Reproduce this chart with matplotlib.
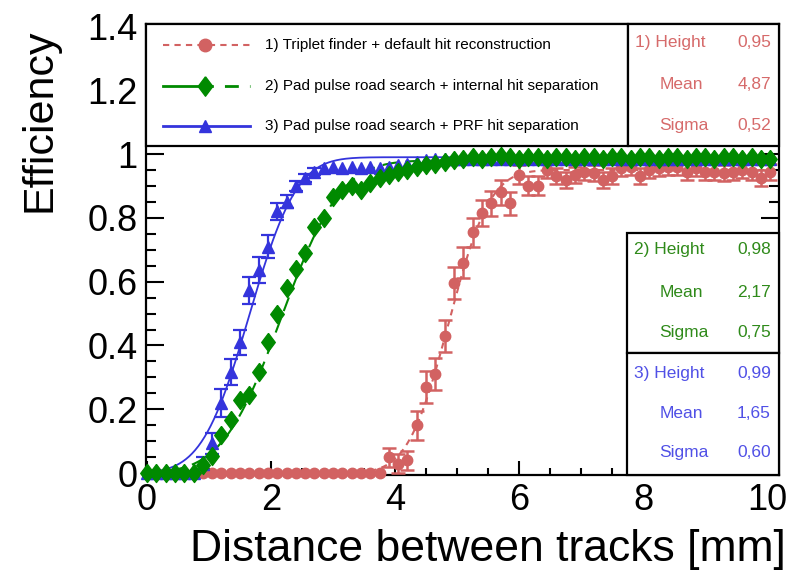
import math
import matplotlib
matplotlib.use('Agg')
import matplotlib.pyplot as plt
import numpy as np
from matplotlib.ticker import MultipleLocator, FormatStrFormatter
from matplotlib.patches import Rectangle

plt.rcParams['font.family'] = ['Liberation Sans', 'DejaVu Sans']

# bin centres [mm], 0.15 mm wide bins
x = np.round(np.arange(68) * 0.15, 2)

# 1) Triplet finder + default hit reconstruction
eff1 = [0, 0, 0, 0, 0, 0, 0, 0, 0, 0, 0, 0, 0, 0, 0, 0, 0, 0, 0, 0, 0, 0, 0, 0, 0, 0,
        0.05, 0.03, 0.04,
        0.15, 0.27, 0.31, 0.43, 0.595, 0.66, 0.755, 0.815, 0.845, 0.88, 0.845, 0.935, 0.90, 0.90,
        0.95, 0.93, 0.92, 0.935, 0.945, 0.94, 0.92, 0.93, 0.955, 0.96,
        0.93, 0.95, 0.955, 0.96, 0.96, 0.945, 0.955, 0.945, 0.945, 0.94,
        0.945, 0.95, 0.945, 0.925, 0.945]
err1 = [0, 0, 0, 0, 0, 0, 0, 0, 0, 0, 0, 0, 0, 0, 0, 0, 0, 0, 0, 0, 0, 0, 0, 0, 0, 0,
        0.03, 0.03, 0.03,
        0.045, 0.05, 0.05, 0.05, 0.05, 0.05, 0.045, 0.04, 0.04, 0.04, 0.035, 0.03, 0.03, 0.03,
        0.025, 0.025, 0.025, 0.025, 0.025, 0.025, 0.025, 0.025, 0.025, 0.025,
        0.025, 0.025, 0.025, 0.025, 0.025, 0.025, 0.025, 0.025, 0.025, 0.025,
        0.025, 0.025, 0.025, 0.025, 0.025]

# 2) Pad pulse road search + internal hit separation
eff2 = [0, 0, 0, 0, 0, 0, 0.025,
        0.055, 0.12, 0.165, 0.23, 0.245, 0.317, 0.41, 0.50, 0.58, 0.64, 0.69, 0.77,
        0.80, 0.865, 0.887, 0.90, 0.887, 0.91, 0.925, 0.935, 0.945, 0.95, 0.96, 0.965,
        0.97, 0.975, 0.98,
        0.985, 0.99, 0.985, 0.99, 0.995, 0.99, 0.985, 0.99, 0.99, 0.985,
        0.99, 0.99, 0.985, 0.99, 0.99, 0.985, 0.99, 0.99, 0.985, 0.99,
        0.99, 0.985, 0.99, 0.99, 0.985, 0.99, 0.99, 0.985, 0.99, 0.99,
        0.985, 0.99, 0.985, 0.985]

# 3) Pad pulse road search + PRF hit separation
eff3 = [0, 0, 0, 0, 0, 0, 0.03,
        0.094, 0.22, 0.317, 0.41, 0.573, 0.636, 0.71, 0.82, 0.85, 0.90, 0.925, 0.945,
        0.955, 0.96, 0.955, 0.96, 0.955, 0.96, 0.955, 0.96, 0.965,
        0.97, 0.975, 0.98, 0.985, 0.985, 0.985, 0.985, 0.985, 0.985, 0.985,
        0.985, 0.985, 0.985, 0.985, 0.985, 0.985, 0.985, 0.985, 0.985, 0.985,
        0.985, 0.985, 0.985, 0.985, 0.985, 0.985, 0.985, 0.985, 0.985, 0.985,
        0.985, 0.985, 0.985, 0.985, 0.985, 0.985, 0.985, 0.985, 0.985, 0.985]
err3 = [0, 0, 0, 0, 0, 0, 0.02,
        0.033, 0.044, 0.04, 0.04, 0.042, 0.04, 0.035, 0.028, 0.02, 0.015, 0.012, 0.01,
        0, 0, 0, 0, 0, 0, 0, 0, 0,
        0, 0, 0, 0, 0, 0, 0, 0, 0, 0,
        0, 0, 0, 0, 0, 0, 0, 0, 0, 0,
        0, 0, 0, 0, 0, 0, 0, 0, 0, 0,
        0, 0, 0, 0, 0, 0, 0, 0, 0, 0]

# fit results (Height, Mean, Sigma)
fit1 = (0.95, 4.87, 0.52)
fit2 = (0.98, 2.17, 0.75)
fit3 = (0.99, 1.65, 0.60)

labels = ['1) Triplet finder + default hit reconstruction',
          '2) Pad pulse road search + internal hit separation',
          '3) Pad pulse road search + PRF hit separation']

c_red = '#d26262'
c_green = '#008a00'
c_blue = '#3434dc'
t_red = '#d66a6a'
t_green = '#2f8a1a'
t_blue = '#5050e6'

# rhombus marker, a bit narrower than it is tall
rhomb = [(0, 1), (0.75, 0), (0, -1), (-0.75, 0), (0, 1)]


def erf_fit(xs, p):
    h, m, s = p
    return np.array([h * 0.5 * (1 + math.erf((v - m) / (s * math.sqrt(2)))) for v in xs])


fig = plt.figure(figsize=(7.93, 5.72), dpi=100)
ax = fig.add_axes([146/793, 1-475/572, 633/793, 451/572])

xf = np.linspace(0, 10, 400)
xf1 = np.linspace(3.6, 10, 300)

# fits
ax.plot(xf, erf_fit(xf, fit3), '-', color=c_blue, lw=1.3, zorder=2)
ax.plot(xf, erf_fit(xf, fit2), color=c_green, lw=1.5, ls=(0, (7, 4)), zorder=2)
ax.plot(xf1, erf_fit(xf1, fit1), color=c_red, lw=1.5, ls=(0, (3, 2.5)), zorder=2)

# data
eff1 = np.array(eff1); err1 = np.array(err1)
eff2 = np.array(eff2)
eff3 = np.array(eff3); err3 = np.array(err3)

m1 = err1 > 0
ax.errorbar(x[m1], eff1[m1], yerr=err1[m1], fmt='none', ecolor=c_red,
            elinewidth=1.8, capsize=5, capthick=1.8, zorder=3)
ax.plot(x, eff1, 'o', color=c_red, ms=7.5, mec=c_red, zorder=4, clip_on=False)

m3 = err3 > 0
ax.errorbar(x[m3], eff3[m3], yerr=err3[m3], fmt='none', ecolor=c_blue,
            elinewidth=1.6, capsize=5, capthick=1.6, zorder=3)
ax.plot(x, eff3, '^', color=c_blue, ms=8, mec=c_blue, zorder=4, clip_on=False)

ax.plot(x, eff2, marker=rhomb, ls='none', color=c_green, ms=13, mec=c_green,
        zorder=5, clip_on=False)

ax.set_xlim(-0.016, 10.19)
ax.set_ylim(-0.006, 1.4075)
ax.xaxis.set_major_locator(MultipleLocator(2))
ax.xaxis.set_minor_locator(MultipleLocator(0.5))
ax.yaxis.set_major_locator(MultipleLocator(0.2))
ax.yaxis.set_minor_locator(MultipleLocator(0.05))
ax.yaxis.set_major_formatter(FormatStrFormatter('%g'))
ax.tick_params(axis='y', which='both', direction='in', right=True, labelsize=26, pad=6, width=1.5)
ax.tick_params(axis='y', which='major', length=13)
ax.tick_params(axis='y', which='minor', length=7)
ax.tick_params(axis='x', which='both', direction='in', labelsize=26, pad=6, width=1.5)
ax.tick_params(axis='x', which='major', length=10)
ax.tick_params(axis='x', which='minor', length=5)
for sp in ax.spines.values():
    sp.set_linewidth(1.6)

# boxes (axes fraction)
boxes = [(0, 0.7295, 0.7615, 0.2705), (0.7615, 0.7295, 0.2385, 0.2705),
         (0.7600, 0.2705, 0.2400, 0.2661), (0.7600, 0, 0.2400, 0.2705)]
for bx, by, bw, bh in boxes:
    ax.add_patch(Rectangle((bx, by), bw, bh, transform=ax.transAxes, facecolor='white',
                           edgecolor='black', lw=1.6, zorder=10, clip_on=False))

# legend entries
ly = [0.953, 0.8625, 0.774]
lx0, lxm, lx1 = 0.0269, 0.0932, 0.164
tr = ax.transAxes
ax.plot([lx0, lx1], [ly[0]]*2, color=c_red, lw=1.5, ls=(0, (3, 2.5)), transform=tr, zorder=11)
ax.plot([lxm], [ly[0]], 'o', color=c_red, ms=9, transform=tr, zorder=12)
ax.plot([lx0, lxm], [ly[1]]*2, color=c_green, lw=2, transform=tr, zorder=11)
ax.plot([lxm, lx1], [ly[1]]*2, color=c_green, lw=2, ls=(2, (5, 4)), transform=tr, zorder=11)
ax.plot([lxm], [ly[1]], marker=rhomb, color=c_green, ms=14, transform=tr, zorder=12)
ax.plot([lx0, lx1], [ly[2]]*2, color=c_blue, lw=2, transform=tr, zorder=11)
ax.plot([lxm], [ly[2]], '^', color=c_blue, ms=9, transform=tr, zorder=12)
for yy, lab in zip(ly, labels):
    ax.text(0.188, yy, lab, transform=tr, fontsize=11, va='center', ha='left', zorder=12)

# fit statistics
def stats(fit, num, ys, col, xl):
    names = [num + ') Height', 'Mean', 'Sigma']
    xs = [xl, 0.811, 0.811]
    for v, n, yy, xx in zip(fit, names, ys, xs):
        ax.text(xx, yy, n, transform=tr, fontsize=12.5, color=col, va='center', ha='left', zorder=12)
        ax.text(0.987, yy, ('%.2f' % v).replace('.', ','), transform=tr, fontsize=12.5,
                color=col, va='center', ha='right', zorder=12)

stats(fit1, '1', [0.958, 0.865, 0.774], t_red, 0.773)
stats(fit2, '2', [0.499, 0.404, 0.317], t_green, 0.771)
stats(fit3, '3', [0.226, 0.137, 0.049], t_blue, 0.771)

fig.text(40/793, 1-28/572, 'Efficiency', rotation=90, ha='center', va='top', fontsize=31)
fig.text(786/793, 1-561/572, 'Distance between tracks [mm]', ha='right', va='baseline', fontsize=32)

plt.savefig('out.png', dpi=100)
